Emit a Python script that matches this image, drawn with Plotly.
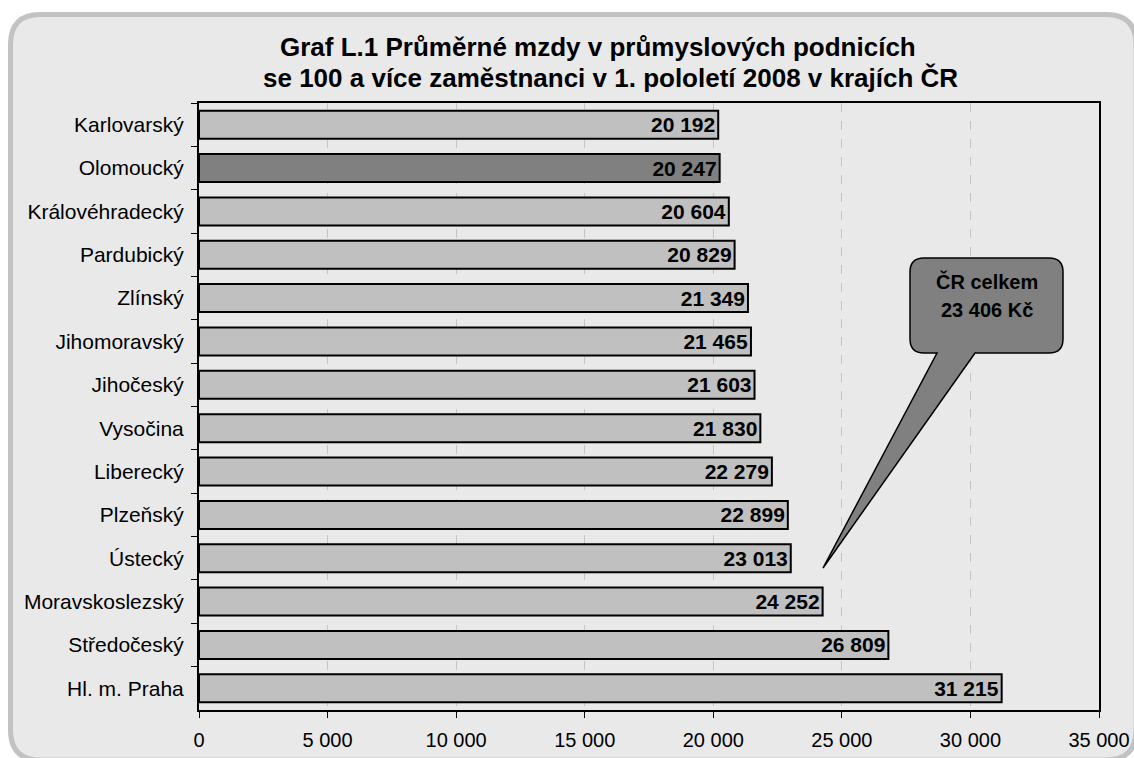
import plotly.graph_objects as go

kraje = ["Karlovarský", "Olomoucký", "Královéhradecký", "Pardubický", "Zlínský",
         "Jihomoravský", "Jihočeský", "Vysočina", "Liberecký", "Plzeňský",
         "Ústecký", "Moravskoslezský", "Středočeský", "Hl. m. Praha"]
mzdy = [20192, 20247, 20604, 20829, 21349, 21465, 21603, 21830, 22279, 22899,
        23013, 24252, 26809, 31215]
zvyraznit = "Olomoucký"
prumer_cr = 23406

W, H = 1134, 758
L, R, T, B = 199, 35, 103, 48
pw, ph = W - L - R, H - T - B


def px(x):
    return (x - L) / pw


def py(y):
    return (H - B - y) / ph


def round_rect_path(x0, y0, x1, y1, r, tail=None):
    # pixel coords -> paper coords, rounded corners with quadratic curves
    p = []
    p.append(f"M{px(x0 + r)},{py(y0)}")
    p.append(f"L{px(x1 - r)},{py(y0)}")
    p.append(f"Q{px(x1)},{py(y0)} {px(x1)},{py(y0 + r)}")
    p.append(f"L{px(x1)},{py(y1 - r)}")
    p.append(f"Q{px(x1)},{py(y1)} {px(x1 - r)},{py(y1)}")
    if tail:
        (bx_r, bx_l, tx, ty) = tail
        p.append(f"L{px(bx_r)},{py(y1)}")
        p.append(f"L{px(tx)},{py(ty)}")
        p.append(f"L{px(bx_l)},{py(y1)}")
    p.append(f"L{px(x0 + r)},{py(y1)}")
    p.append(f"Q{px(x0)},{py(y1)} {px(x0)},{py(y1 - r)}")
    p.append(f"L{px(x0)},{py(y0 + r)}")
    p.append(f"Q{px(x0)},{py(y0)} {px(x0 + r)},{py(y0)}")
    p.append("Z")
    return " ".join(p)


barvy = ["#808080" if k == zvyraznit else "#c0c0c0" for k in kraje]
popisky = [f"{v:,}".replace(",", " ") for v in mzdy]

fig = go.Figure()
fig.add_trace(go.Bar(
    x=mzdy, y=kraje, orientation="h",
    marker=dict(color=barvy, line=dict(color="black", width=2)),
    text=popisky, textposition="inside", insidetextanchor="end",
    textfont=dict(family="Liberation Sans, Arial", size=21, color="black", weight="bold"),
    constraintext="none", cliponaxis=False, hoverinfo="skip",
))

fig.update_layout(
    width=W, height=H,
    margin=dict(l=L, r=R, t=T, b=B, autoexpand=False),
    paper_bgcolor="white", plot_bgcolor="rgba(0,0,0,0)",
    bargap=0.354, showlegend=False,
    separators=", ",
    font=dict(family="Liberation Sans, Arial", color="black"),
)
fig.update_xaxes(
    range=[0, 35000], dtick=5000, tickformat=",d",
    showgrid=True, gridcolor="#c4c4c4", griddash="dash", gridwidth=1,
    showline=True, linecolor="black", linewidth=2, mirror=True,
    ticks="outside", ticklen=6, tickcolor="black", tickwidth=1,
    tickfont=dict(size=20), ticklabelstandoff=5, zeroline=False,
)
fig.update_yaxes(
    autorange="reversed", tickson="boundaries",
    showline=True, linecolor="black", linewidth=2, mirror=True,
    ticks="outside", ticklen=6, tickcolor="black", tickwidth=1,
    tickfont=dict(size=21), ticklabelstandoff=9, showgrid=False,
)

# outer rounded frame (runs off the right and bottom edges like the original)
fig.add_shape(type="path", xref="paper", yref="paper", layer="below",
              path=round_rect_path(10.5, 14.5, 1136, 760, 30),
              fillcolor="#e9e9e9", line=dict(color="#c2c2c2", width=5))

# callout bubble
fig.add_shape(type="path", xref="paper", yref="paper", layer="above",
              path=round_rect_path(910, 258, 1063, 353, 14, tail=(975, 937, 823, 568)),
              fillcolor="#808080", line=dict(color="black", width=1.5))
fig.add_annotation(x=px(986.5), y=py(281), xref="paper", yref="paper",
                   text="<b>ČR celkem</b>", showarrow=False, xanchor="center",
                   font=dict(size=20, color="black"), yanchor="middle")
fig.add_annotation(x=px(986.5), y=py(310), xref="paper", yref="paper",
                   text=f"<b>{prumer_cr:,} Kč</b>".replace(",", " "), showarrow=False,
                   xanchor="center", font=dict(size=20, color="black"), yanchor="middle")

# title
fig.add_annotation(x=px(598), y=py(47), xref="paper", yref="paper",
                   text="<b>Graf L.1 Průměrné mzdy v průmyslových podnicích</b>",
                   showarrow=False, font=dict(size=26), xanchor="center", yanchor="middle")
fig.add_annotation(x=px(610), y=py(78), xref="paper", yref="paper",
                   text="<b>se 100 a více zaměstnanci v 1. pololetí 2008 v krajích ČR</b>",
                   showarrow=False, font=dict(size=26), xanchor="center", yanchor="middle")

fig.write_html("out.html", config={"displayModeBar": False},
               post_script="document.body.style.margin='0';")
